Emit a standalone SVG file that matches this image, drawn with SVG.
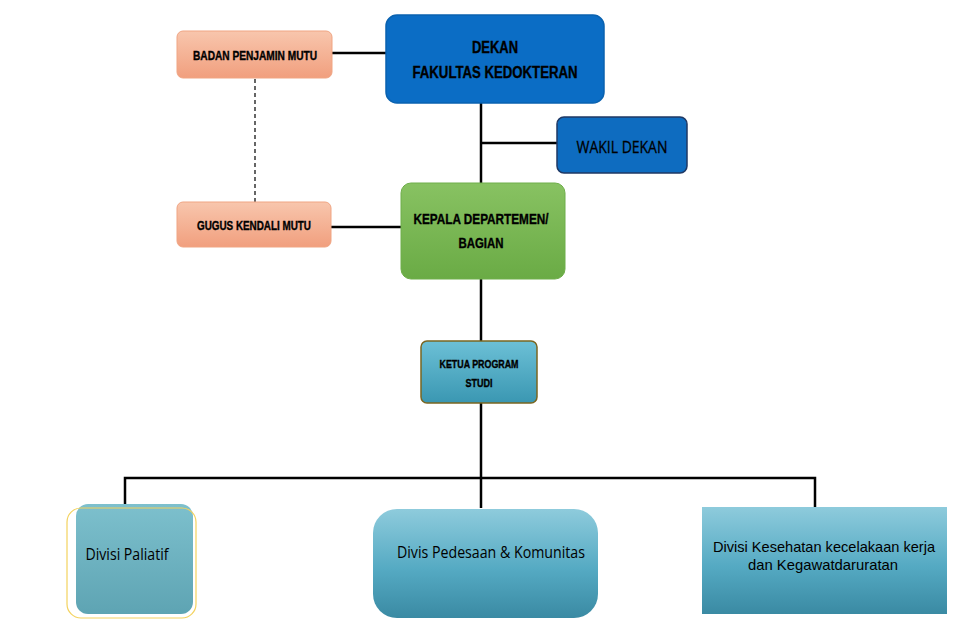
<svg xmlns="http://www.w3.org/2000/svg" width="975" height="620" viewBox="0 0 975 620">
<defs>
<linearGradient id="gSalmon" x1="0" y1="0" x2="0" y2="1"><stop offset="0" stop-color="#f8c6ad"/><stop offset="1" stop-color="#f19f7e"/></linearGradient>
<linearGradient id="gGreen" x1="0" y1="0" x2="0" y2="1"><stop offset="0" stop-color="#88c262"/><stop offset="1" stop-color="#6aab45"/></linearGradient>
<linearGradient id="gTeal" x1="0" y1="0" x2="0" y2="1"><stop offset="0" stop-color="#6cc0d6"/><stop offset="1" stop-color="#3a97b2"/></linearGradient>
<linearGradient id="gDiv" x1="0" y1="0" x2="0" y2="1"><stop offset="0" stop-color="#8ecbdc"/><stop offset="0.55" stop-color="#55aac3"/><stop offset="1" stop-color="#3a8aa3"/></linearGradient>
<linearGradient id="gPal" x1="0" y1="0" x2="0" y2="1"><stop offset="0" stop-color="#7dc0cd"/><stop offset="1" stop-color="#5ea4b3"/></linearGradient>
</defs>
<style>
.ln{stroke:#000;stroke-width:2.5;fill:none}
.dash{stroke:#000;stroke-width:1.2;stroke-dasharray:4 3;fill:none}
.b{font-family:"Liberation Sans",Arial,sans-serif;font-weight:bold;fill:#000;stroke:#000;stroke-width:0.35;text-anchor:middle}
.r{font-family:"Open Sans","Liberation Sans",sans-serif;fill:#000;text-anchor:middle}
.r2{font-family:"Liberation Sans",Arial,sans-serif;fill:#000;text-anchor:middle}
</style>
<rect width="975" height="620" fill="#fff"/>
<g id="connectors">
<line class="ln" x1="332" y1="53" x2="386" y2="53"/>
<line class="dash" x1="255" y1="79" x2="255" y2="202"/>
<line class="ln" x1="331" y1="227" x2="401" y2="227"/>
<line class="ln" x1="481" y1="88" x2="481" y2="183"/>
<line class="ln" x1="481" y1="143" x2="557" y2="143"/>
<line class="ln" x1="481" y1="279" x2="481" y2="341"/>
<line class="ln" x1="481" y1="403" x2="481" y2="508"/>
<polyline class="ln" points="125,505 125,478 815,478 815,507"/>
</g>
<g id="badan">
<rect x="177" y="31" width="155" height="47" rx="6" fill="url(#gSalmon)" stroke="#f0a583" stroke-width="1"/>
<text class="b" x="255" y="60" font-size="12" textLength="124" lengthAdjust="spacingAndGlyphs">BADAN PENJAMIN MUTU</text>
</g>
<g id="dekan">
<rect x="386" y="15" width="218" height="88" rx="11" fill="#0b6dc5" stroke="#0a62b0" stroke-width="1.5"/>
<text class="b" x="495" y="53" font-size="16" textLength="46" lengthAdjust="spacingAndGlyphs">DEKAN</text>
<text class="b" x="495" y="78" font-size="16" textLength="165" lengthAdjust="spacingAndGlyphs">FAKULTAS KEDOKTERAN</text>
</g>
<g id="wakil">
<rect x="557" y="117" width="130" height="56" rx="7" fill="#0e6cc0" stroke="#1f3864" stroke-width="1.5"/>
<text class="r" x="622" y="153" font-size="17" textLength="91" lengthAdjust="spacingAndGlyphs" stroke="#000" stroke-width="0.3">WAKIL DEKAN</text>
</g>
<g id="gugus">
<rect x="177" y="202" width="154" height="45" rx="6" fill="url(#gSalmon)" stroke="#f0a583" stroke-width="1"/>
<text class="b" x="254" y="230" font-size="12" textLength="114" lengthAdjust="spacingAndGlyphs">GUGUS KENDALI MUTU</text>
</g>
<g id="kepala">
<rect x="401" y="183" width="164" height="96" rx="10" fill="url(#gGreen)" stroke="#6fae4a" stroke-width="1"/>
<text class="b" x="481" y="224" font-size="14" textLength="135" lengthAdjust="spacingAndGlyphs">KEPALA DEPARTEMEN/</text>
<text class="b" x="481" y="248" font-size="14" textLength="45" lengthAdjust="spacingAndGlyphs">BAGIAN</text>
</g>
<g id="ketua">
<rect x="421" y="341" width="116" height="62" rx="6" fill="url(#gTeal)" stroke="#7a6520" stroke-width="1.5"/>
<text class="b" x="479" y="368" font-size="11" textLength="79" lengthAdjust="spacingAndGlyphs">KETUA PROGRAM</text>
<text class="b" x="479" y="387" font-size="11" textLength="27" lengthAdjust="spacingAndGlyphs">STUDI</text>
</g>
<g id="paliatif">
<rect x="76" y="504" width="117" height="110" rx="12" fill="url(#gPal)"/>
<rect x="67" y="508" width="129" height="110" rx="14" fill="none" stroke="#f3d25e" stroke-width="1.2"/>
<text class="r" x="127" y="560" font-size="17" textLength="83" lengthAdjust="spacingAndGlyphs">Divisi Paliatif</text>
</g>
<g id="pedesaan">
<rect x="373" y="509" width="225" height="109" rx="24" fill="url(#gDiv)"/>
<text class="r" x="491" y="558" font-size="17" textLength="188" lengthAdjust="spacingAndGlyphs">Divis Pedesaan &amp; Komunitas</text>
</g>
<g id="kesehatan">
<rect x="702" y="507" width="245" height="107" fill="url(#gDiv)"/>
<text class="r2" x="824" y="552" font-size="15" textLength="222" lengthAdjust="spacingAndGlyphs">Divisi Kesehatan  kecelakaan kerja</text>
<text class="r2" x="823" y="570" font-size="15" textLength="150" lengthAdjust="spacingAndGlyphs">dan Kegawatdaruratan</text>
</g>
</svg>
